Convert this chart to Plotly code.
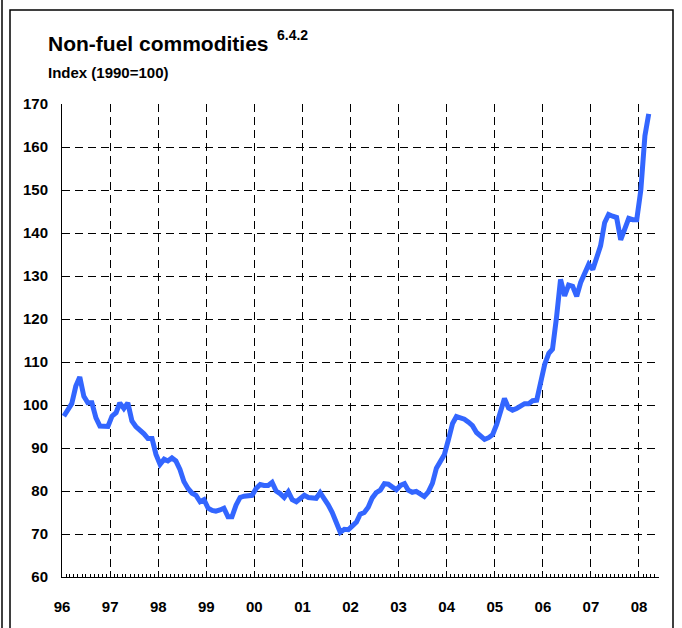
import pandas as pd
import plotly.graph_objects as go

# ---- data (monthly index values, Jan 1996 .. Mar 2008) ----
start_month = "1996-01-01"
values = [
    97.4, 99.0, 100.3, 104.4, 106.5, 102.0, 100.5, 100.5, 97.0, 95.1, 95.0, 95.0,      # 1996
    97.4, 98.2, 100.5, 99.2, 100.5, 96.3, 95.0, 94.3, 93.3, 92.2, 92.2, 88.5,         # 1997
    86.2, 87.4, 87.0, 87.7, 87.0, 85.0, 82.2, 80.6, 79.5, 79.0, 77.5, 78.0,           # 1998
    76.0, 75.5, 75.3, 75.6, 76.0, 74.0, 74.0, 76.7, 78.5, 78.8, 78.8, 79.0,           # 1999
    80.6, 81.5, 81.3, 81.3, 82.0, 80.0, 79.4, 78.5, 79.8, 78.0, 77.5, 78.3,           # 2000
    79.0, 78.5, 78.4, 78.3, 79.6, 78.3, 76.8, 75.0, 72.7, 70.4, 71.1, 71.0,           # 2001
    71.9, 72.8, 74.6, 75.0, 76.2, 78.4, 79.6, 80.2, 81.7, 81.6, 80.9, 80.3,           # 2002
    81.3, 81.7, 80.2, 79.7, 79.9, 79.3, 78.7, 79.8, 81.8, 85.3, 86.8, 88.5,           # 2003
    92.0, 95.7, 97.3, 97.1, 96.7, 96.0, 95.2, 93.6, 92.6, 92.0, 92.4, 93.1,           # 2004
    95.5, 98.4, 101.5, 99.3, 98.8, 99.2, 99.7, 100.3, 100.3, 101.0, 101.1, 105.0,     # 2005
    109.5, 112.0, 113.0, 120.5, 129.2, 125.4, 127.9, 127.6, 125.3, 128.5, 130.9, 132.7,  # 2006
    131.5, 134.3, 137.0, 142.4, 144.3, 143.9, 143.6, 138.4, 141.1, 143.4, 143.1, 143.1,  # 2007
    150.0, 162.6, 167.7,                                                              # 2008
]
dates = pd.date_range(start_month, periods=len(values), freq="MS") + pd.Timedelta(days=14)

title_text = "Non-fuel commodities"
title_sup = "6.4.2"
subtitle_text = "Index (1990=100)"
y_ticks = list(range(60, 171, 10))

# ---- layout geometry (pixels) ----
W, H = 682, 628
L, R, T, B = 62, 23, 104, 51
PW, PH = W - L - R, H - T - B

def px_x(x):
    return (x - L) / PW

def px_y(y):
    return (H - B - y) / PH

FONT = "Liberation Sans, Arial, sans-serif"
LINE_BLUE = "#3366ff"

fig = go.Figure()
fig.add_trace(go.Scatter(
    x=dates, y=values, mode="lines",
    line=dict(color=LINE_BLUE, width=5),
    hoverinfo="skip", showlegend=False,
))

fig.update_layout(
    width=W, height=H,
    margin=dict(l=L, r=R, t=T, b=B, pad=0),
    paper_bgcolor="white", plot_bgcolor="white",
    font=dict(family=FONT, color="black"),
    showlegend=False,
)

fig.update_xaxes(
    type="date",
    range=["1996-01-01", "2008-06-01"],
    tick0="1996-01-01", dtick="M12", tickformat="%y",
    ticks="inside", ticklen=6, tickwidth=1, tickcolor="black",
    showline=True, linecolor="black", linewidth=1,
    showgrid=True, gridcolor="black", gridwidth=1, griddash="8px,5px",
    minor=dict(dtick="M1", ticks="inside", ticklen=3, tickwidth=1,
               tickcolor="black", showgrid=False),
    tickfont=dict(family=FONT, size=15, color="black", weight="bold"),
    ticklabelstandoff=16,
    zeroline=False, fixedrange=True,
)
fig.update_yaxes(
    range=[60, 170], tickvals=y_ticks,
    ticks="", showline=True, linecolor="black", linewidth=1,
    showgrid=True, gridcolor="black", gridwidth=1, griddash="8px,5px",
    tickfont=dict(family=FONT, size=15, color="black", weight="bold"),
    ticklabelstandoff=10,
    zeroline=False, fixedrange=True,
)

# titles
fig.add_annotation(
    text=f"<b>{title_text}</b>", xref="paper", yref="paper",
    x=px_x(46), y=px_y(43), xanchor="left", yanchor="middle",
    showarrow=False, font=dict(family=FONT, size=21, color="black"),
)
fig.add_annotation(
    text=f"<b>{title_sup}</b>", xref="paper", yref="paper",
    x=px_x(275), y=px_y(35), xanchor="left", yanchor="middle",
    showarrow=False, font=dict(family=FONT, size=14, color="black"),
)
fig.add_annotation(
    text=f"<b>{subtitle_text}</b>", xref="paper", yref="paper",
    x=px_x(46), y=px_y(73), xanchor="left", yanchor="middle",
    showarrow=False, font=dict(family=FONT, size=15, color="black"),
)

# page frame
fig.add_shape(type="rect", xref="paper", yref="paper",
              x0=px_x(10), x1=px_x(673), y0=px_y(640), y1=px_y(10),
              line=dict(color="black", width=1.5), layer="below")
fig.add_shape(type="line", xref="paper", yref="paper",
              x0=px_x(2), x1=px_x(2), y0=px_y(640), y1=px_y(-5),
              line=dict(color="black", width=1.5), layer="below")

fig.write_html(
    "out.html",
    config={"displayModeBar": False, "staticPlot": True},
    post_script="document.body.style.margin='0';document.body.style.overflow='hidden';",
)
